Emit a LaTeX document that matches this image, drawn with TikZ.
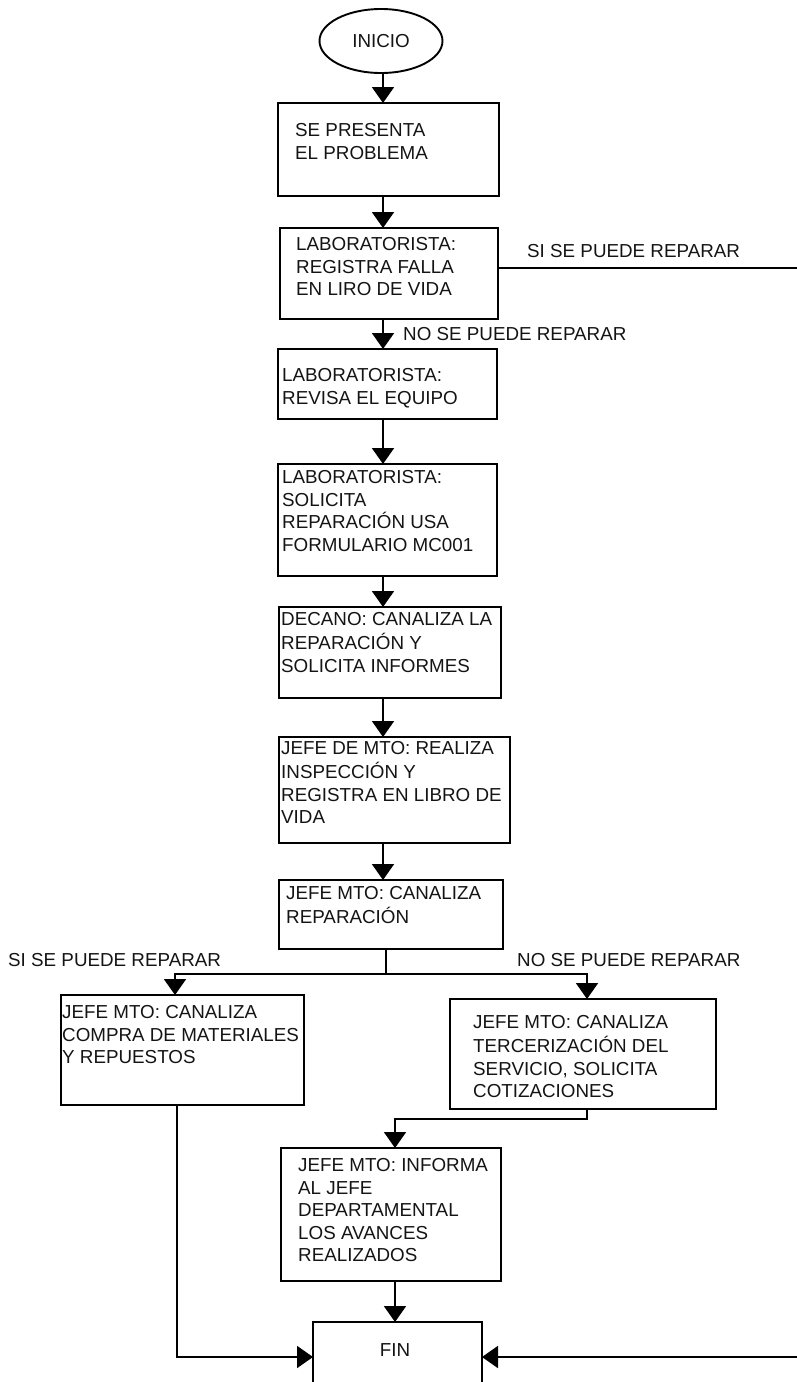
\documentclass[tikz,border=0pt]{standalone}
\usepackage{fontspec}
\setmainfont{Liberation Sans}
\usetikzlibrary{arrows.meta,shapes.geometric}
\definecolor{ink}{HTML}{141414}
\newcommand{\fsz}{\fontsize{18.8}{22.5}\selectfont}
\begin{document}
\begin{tikzpicture}[x=1pt,y=-1pt,
  box/.style={draw=black, line width=1.9pt, rectangle, inner sep=0pt, outer sep=0pt, anchor=north west},
  txt/.style={anchor=north west, inner sep=0pt, align=left, font=\fsz, text=ink},
  lbl/.style={anchor=west, inner sep=0pt, font=\fsz, text=ink},
  conn/.style={draw=black, line width=1.9pt},
  arr/.style={conn, -{Triangle[width=22pt,length=16pt]}}]
\useasboundingbox (0,0) rectangle (797,1382);
\clip (0,0) rectangle (797,1382);

% start
\node[draw=black, ellipse, line width=1.9pt, minimum width=123pt, minimum height=64pt, inner sep=0pt, font=\fsz, text=ink] (inicio) at (381,41) {INICIO};

% boxes
\node[box, minimum width=221pt, minimum height=93pt] (b1) at (278,103) {};
\node[txt] (b1t) at (295,120.6) {\strut SE PRESENTA\\EL PROBLEMA};

\node[box, minimum width=218pt, minimum height=91pt] (b2) at (280,228) {};
\node[txt] (b2t) at (296,234.6) {\strut LABORATORISTA:\\REGISTRA FALLA\\EN LIRO DE VIDA};

\node[box, minimum width=219pt, minimum height=70pt] (b3) at (278,349) {};
\node[txt] (b3t) at (282,365.6) {\strut LABORATORISTA:\\REVISA EL EQUIPO};

\node[box, minimum width=219pt, minimum height=112pt] (b4) at (278,464) {};
\node[txt] (b4t) at (282,467.6) {\strut LABORATORISTA:\\SOLICITA\\REPARACIÓN USA\\FORMULARIO MC001};

\node[box, minimum width=222pt, minimum height=91pt] (b5) at (279,607) {};
\node[txt] (b5t) at (281,609.6) {\strut DECANO: CANALIZA LA\\REPARACIÓN Y\\SOLICITA INFORMES};

\node[box, minimum width=231pt, minimum height=106pt] (b6) at (279,737) {};
\node[txt] (b6t) at (281,738.6) {\strut JEFE DE MTO: REALIZA\\INSPECCIÓN Y\\REGISTRA EN LIBRO DE\\VIDA};

\node[box, minimum width=224pt, minimum height=69pt] (b7) at (279,880) {};
\node[txt] (b7t) at (286,883.6) {\strut JEFE MTO: CANALIZA\\REPARACIÓN};

\node[box, minimum width=243pt, minimum height=110pt] (b8) at (61,995) {};
\node[txt] (b8t) at (62,1002.6) {\strut JEFE MTO: CANALIZA\\COMPRA DE MATERIALES\\Y REPUESTOS};

\node[box, minimum width=266pt, minimum height=110pt] (b9) at (450,999) {};
\node[txt] (b9t) at (473,1012.6) {\strut JEFE MTO: CANALIZA\\TERCERIZACIÓN DEL\\SERVICIO, SOLICITA\\COTIZACIONES};

\node[box, minimum width=220pt, minimum height=133pt] (b10) at (281,1148) {};
\node[txt] (b10t) at (298,1155.6) {\strut JEFE MTO: INFORMA\\AL JEFE\\DEPARTAMENTAL\\LOS AVANCES\\REALIZADOS};

\node[box, minimum width=169pt, minimum height=70pt] (fin) at (313,1322) {};
\node[inner sep=0pt, font=\fsz, text=ink] (fint) at (395,1350) {FIN};

% labels
\node[lbl] (l1) at (527,251) {SI SE PUEDE REPARAR};
\node[lbl] (l2) at (403,334) {NO SE PUEDE REPARAR};
\node[lbl] (l3) at (8,960) {SI SE PUEDE REPARAR};
\node[lbl] (l4) at (517,960) {NO SE PUEDE REPARAR};

% helper coordinates
\coordinate (ax) at (383,0);
\coordinate (rt) at (803,268);
\coordinate (rb) at (803,1357);
\coordinate (lb) at (177,1357);
\coordinate (sp) at (386,974);
\coordinate (spl) at (175,974);
\coordinate (spr) at (587,974);
\coordinate (jn) at (587,1119);
\coordinate (jl) at (395,1119);

% main column
\draw[arr] (ax |- inicio.south) -- (ax |- b1.north);
\draw[arr] (ax |- b1.south) -- (ax |- b2.north);
\draw[arr] (ax |- b2.south) -- (ax |- b3.north);
\draw[arr] (ax |- b3.south) -- (ax |- b4.north);
\draw[arr] (ax |- b4.south) -- (ax |- b5.north);
\draw[arr] (ax |- b5.south) -- (ax |- b6.north);
\draw[arr] (ax |- b6.south) -- (ax |- b7.north);

% split
\draw[conn] (sp |- b7.south) -- (sp);
\draw[arr] (sp) -- (spl) -- (spl |- b8.north);
\draw[arr] (sp) -- (spr) -- (spr |- b9.north);

% b9 to b10, b10 to fin
\draw[arr] (jn |- b9.south) -- (jn) -- (jl) -- (jl |- b10.north);
\draw[arr] (jl |- b10.south) -- (jl |- fin.north);

% b8 to fin
\draw[arr] (lb |- b8.south) -- (lb) -- (fin.west);

% b2 to fin along right edge
\draw[arr] (rt -| b2.east) -- (rt) -- (rb) -- (fin.east);
\end{tikzpicture}
\end{document}
